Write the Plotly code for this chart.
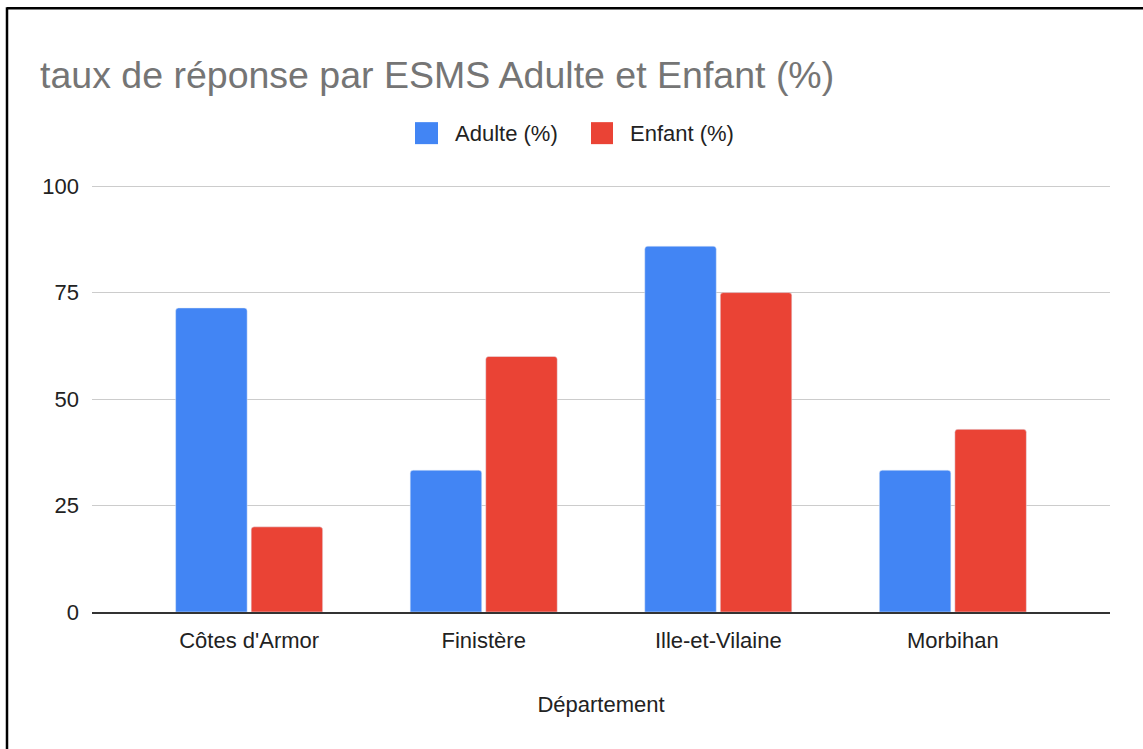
import plotly.graph_objects as go

categories = ["Côtes d'Armor", "Finistère", "Ille-et-Vilaine", "Morbihan"]
adulte = [71.4, 33.3, 85.9, 33.3]
enfant = [20.0, 60.0, 75.0, 42.9]
y_ticks = [0, 25, 50, 75, 100]
series_names = ["Adulte (%)", "Enfant (%)"]
series_colors = ["#4285F4", "#EA4335"]

W, H = 1143, 749
Y_TOP = 100.5
PX_PER_UNIT = 4.26
ML, MR = 92, 33
MB = H - 612
MT = 612 - Y_TOP * PX_PER_UNIT
pw = W - ML - MR
ph = H - MT - MB


def px_to_paper_x(px):
    return (px - ML) / pw


def px_to_paper_y(py):
    return (H - MB - py) / ph


font_family = "Liberation Sans, Arial, sans-serif"
TXT = "#222222"

fig = go.Figure()
fig.add_trace(go.Bar(name=series_names[0], x=categories, y=adulte,
                     marker_color=series_colors[0], showlegend=False))
fig.add_trace(go.Bar(name=series_names[1], x=categories, y=enfant,
                     marker_color=series_colors[1], showlegend=False))

# custom legend (larger squares than plotly's built-in legend allows)
legend_sq = [(415, 438), (591, 613)]
legend_txt_x = [453, 628]
LEG_Y = 133
shapes = []
annotations = []
for (x0, x1), tx, name, col in zip(legend_sq, legend_txt_x, series_names, series_colors):
    shapes.append(dict(type="rect", xref="paper", yref="paper",
                       x0=px_to_paper_x(x0), x1=px_to_paper_x(x1),
                       y0=px_to_paper_y(LEG_Y - 11), y1=px_to_paper_y(LEG_Y + 11),
                       fillcolor=col, line=dict(width=0)))
    annotations.append(dict(text=name, xref="paper", yref="paper",
                            x=px_to_paper_x(tx), y=px_to_paper_y(LEG_Y),
                            xanchor="left", yanchor="middle", showarrow=False,
                            font=dict(size=22, color=TXT, family=font_family)))

# outer frame (top and left edges only, as in the reference)
shapes += [
    dict(type="line", xref="paper", yref="paper",
         x0=px_to_paper_x(7), x1=px_to_paper_x(W + 5),
         y0=px_to_paper_y(8), y1=px_to_paper_y(8),
         line=dict(color="black", width=2.5)),
    dict(type="line", xref="paper", yref="paper",
         x0=px_to_paper_x(7), x1=px_to_paper_x(7),
         y0=px_to_paper_y(7), y1=px_to_paper_y(H + 5),
         line=dict(color="black", width=2.5)),
]

fig.update_layout(
    width=W, height=H,
    margin=dict(l=ML, r=MR, t=MT, b=MB, pad=0),
    paper_bgcolor="white", plot_bgcolor="white",
    font=dict(family=font_family, size=22, color=TXT),
    barmode="group", bargap=0.356, bargroupgap=0.053, barcornerradius=3,
    title=dict(text="taux de réponse par ESMS Adulte et Enfant (%)",
               x=40 / W, xanchor="left", y=1 - 75 / H, yanchor="middle",
               font=dict(size=37.5, color="#757575", family=font_family)),
    showlegend=False,
    xaxis=dict(showgrid=False, showline=True, linecolor="#333333", linewidth=2,
               ticks="", tickfont=dict(size=22, color=TXT),
               range=[-0.67, 3.67], ticklabelstandoff=8,
               title=dict(text="Département", font=dict(size=22, color=TXT), standoff=44)),
    yaxis=dict(range=[0, Y_TOP], tickvals=y_ticks, showgrid=True, gridcolor="#cccccc",
               gridwidth=1, zeroline=False, showline=False, ticks="",
               tickfont=dict(size=22, color=TXT), ticklabelstandoff=12),
    shapes=shapes,
    annotations=annotations,
)

fig.write_html("out.html", config={"displayModeBar": False},
               post_script="document.body.style.margin='0';")
